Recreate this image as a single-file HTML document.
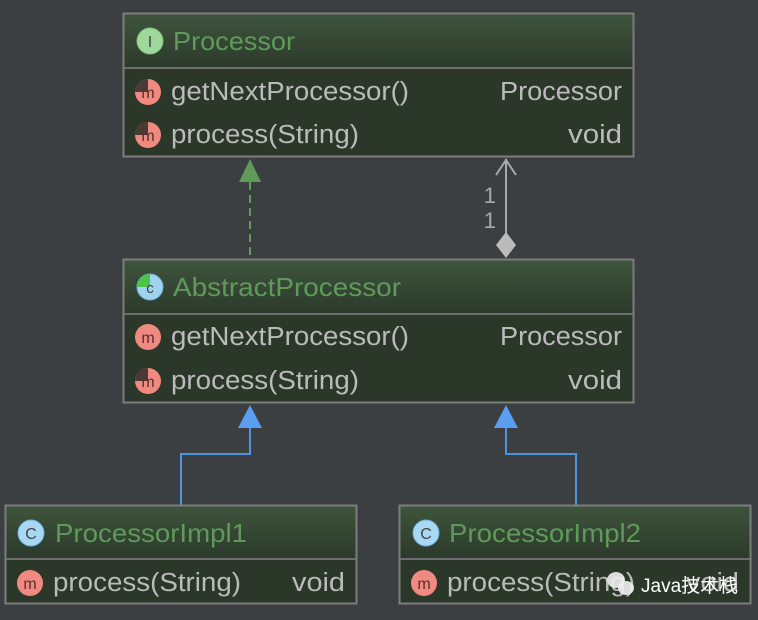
<!DOCTYPE html>
<html><head><meta charset="utf-8"><style>
html,body{margin:0;padding:0;background:#3c3f41;}
svg{display:block;}
text{font-family:"Liberation Sans","Noto Sans CJK SC",sans-serif;}
.t{fill:#5f9a5a;font-size:26px;}
.m{fill:#bbbbbb;font-size:25.5px;}
</style></head><body>
<svg width="758" height="620" viewBox="0 0 758 620" xmlns="http://www.w3.org/2000/svg">
<defs>
<linearGradient id="hg" x1="0" y1="0" x2="0" y2="1"><stop offset="0" stop-color="#3e543c"/><stop offset="1" stop-color="#2c3a2b"/></linearGradient>
</defs>
<rect width="758" height="620" fill="#3c3f41"/>

<!-- Processor -->
<rect x="123.5" y="13.5" width="510" height="143" fill="#2b3829" stroke="#7d7d7d" stroke-width="2"/>
<rect x="124.5" y="14.5" width="508" height="53" fill="url(#hg)"/>
<line x1="124" y1="68" x2="633" y2="68" stroke="#6e6e6e" stroke-width="2"/>
<circle cx="150" cy="41" r="13" fill="#9fd89b" stroke="#7fc07a"/>
<text x="150" y="47" font-size="16" fill="#444" text-anchor="middle" font-family="Liberation Serif">I</text>
<text class="t" x="173" y="50" textLength="122" lengthAdjust="spacingAndGlyphs">Processor</text>
<circle cx="148" cy="92" r="13" fill="#f08a80"/><path d="M148 79 A13 13 0 0 0 135 92 L148 92Z" fill="#4a3a36"/>
<text x="148" y="98" font-size="16" fill="#5a2d28" text-anchor="middle">m</text>
<text class="m" x="171" y="100" textLength="238" lengthAdjust="spacingAndGlyphs">getNextProcessor()</text>
<text class="m" x="500" y="100" textLength="122" lengthAdjust="spacingAndGlyphs">Processor</text>
<circle cx="148" cy="135" r="13" fill="#f08a80"/><path d="M148 122 A13 13 0 0 0 135 135 L148 135Z" fill="#4a3a36"/>
<text x="148" y="141" font-size="16" fill="#5a2d28" text-anchor="middle">m</text>
<text class="m" x="171" y="143" textLength="188" lengthAdjust="spacingAndGlyphs">process(String)</text>
<text class="m" x="568" y="143" textLength="54" lengthAdjust="spacingAndGlyphs">void</text>

<!-- dashed realization -->
<line x1="250" y1="182" x2="250" y2="258" stroke="#5f9a5a" stroke-width="2" stroke-dasharray="8,5"/>
<polygon points="250,159 239,182 261,182" fill="#5f9a5a"/>

<!-- composition -->
<line x1="506" y1="159" x2="506" y2="233" stroke="#aaaaaa" stroke-width="2"/>
<polyline points="496,175 506,160 516,175" fill="none" stroke="#aaaaaa" stroke-width="2"/>
<polygon points="506,232 516,245 506,258 496,245" fill="#bbbbbb"/>
<text x="496" y="203" font-size="22" fill="#aaaaaa" text-anchor="end">1</text>
<text x="496" y="228" font-size="22" fill="#aaaaaa" text-anchor="end">1</text>

<!-- AbstractProcessor -->
<rect x="123.5" y="259.5" width="510" height="143" fill="#2b3829" stroke="#7d7d7d" stroke-width="2"/>
<rect x="124.5" y="260.5" width="508" height="53" fill="url(#hg)"/>
<line x1="124" y1="314" x2="633" y2="314" stroke="#6e6e6e" stroke-width="2"/>
<circle cx="150" cy="287" r="13" fill="#9fd3f0" stroke="#6fb0d8"/>
<path d="M150 274 A13 13 0 0 0 137 287 L150 287Z" fill="#4cc24a"/>
<text x="150" y="293" font-size="15" fill="#444" text-anchor="middle">c</text>
<text class="t" x="173" y="296" textLength="228" lengthAdjust="spacingAndGlyphs">AbstractProcessor</text>
<circle cx="148" cy="337" r="13" fill="#f08a80"/>
<text x="148" y="343" font-size="16" fill="#5a2d28" text-anchor="middle">m</text>
<text class="m" x="171" y="345" textLength="238" lengthAdjust="spacingAndGlyphs">getNextProcessor()</text>
<text class="m" x="500" y="345" textLength="122" lengthAdjust="spacingAndGlyphs">Processor</text>
<circle cx="148" cy="381" r="13" fill="#f08a80"/><path d="M148 368 A13 13 0 0 0 135 381 L148 381Z" fill="#4a3a36"/>
<text x="148" y="387" font-size="16" fill="#5a2d28" text-anchor="middle">m</text>
<text class="m" x="171" y="389" textLength="188" lengthAdjust="spacingAndGlyphs">process(String)</text>
<text class="m" x="568" y="389" textLength="54" lengthAdjust="spacingAndGlyphs">void</text>

<!-- inheritance -->
<polyline points="250,428 250,454 181,454 181,505" fill="none" stroke="#4f92e0" stroke-width="2"/>
<polygon points="250,405 238,428 262,428" fill="#5a9ef0"/>
<polyline points="506,428 506,454 576,454 576,505" fill="none" stroke="#4f92e0" stroke-width="2"/>
<polygon points="506,405 494,428 518,428" fill="#5a9ef0"/>

<!-- Impl1 -->
<rect x="5.5" y="505.5" width="351" height="98" fill="#2b3829" stroke="#7d7d7d" stroke-width="2"/>
<rect x="6.5" y="506.5" width="349" height="51" fill="url(#hg)"/>
<line x1="6" y1="559" x2="356" y2="559" stroke="#6e6e6e" stroke-width="2"/>
<circle cx="31" cy="533" r="13" fill="#a8d8f4" stroke="#6fb0d8"/>
<text x="31" y="539" font-size="16" fill="#444" text-anchor="middle">C</text>
<text class="t" x="55" y="542" textLength="192" lengthAdjust="spacingAndGlyphs">ProcessorImpl1</text>
<circle cx="30" cy="583" r="13" fill="#f08a80"/>
<text x="30" y="589" font-size="16" fill="#5a2d28" text-anchor="middle">m</text>
<text class="m" x="53" y="591" textLength="188" lengthAdjust="spacingAndGlyphs">process(String)</text>
<text class="m" x="292" y="591" textLength="53" lengthAdjust="spacingAndGlyphs">void</text>

<!-- Impl2 -->
<rect x="399.5" y="505.5" width="351" height="98" fill="#2b3829" stroke="#7d7d7d" stroke-width="2"/>
<rect x="400.5" y="506.5" width="349" height="51" fill="url(#hg)"/>
<line x1="400" y1="559" x2="750" y2="559" stroke="#6e6e6e" stroke-width="2"/>
<circle cx="426" cy="533" r="13" fill="#a8d8f4" stroke="#6fb0d8"/>
<text x="426" y="539" font-size="16" fill="#444" text-anchor="middle">C</text>
<text class="t" x="449" y="542" textLength="192" lengthAdjust="spacingAndGlyphs">ProcessorImpl2</text>
<circle cx="424" cy="583" r="13" fill="#f08a80"/>
<text x="424" y="589" font-size="16" fill="#5a2d28" text-anchor="middle">m</text>
<text class="m" x="447" y="591" textLength="188" lengthAdjust="spacingAndGlyphs">process(String)</text>
<text class="m" x="686" y="591" textLength="53" lengthAdjust="spacingAndGlyphs">void</text>

<!-- watermark -->
<ellipse cx="616" cy="580" rx="9" ry="8" fill="#eeeeee" opacity="0.9"/>
<ellipse cx="626" cy="588" rx="8" ry="7" fill="#eeeeee" opacity="0.9"/>
<text x="641" y="592" font-size="19" fill="#ffffff">Java技术栈</text>
</svg>
</body></html>
